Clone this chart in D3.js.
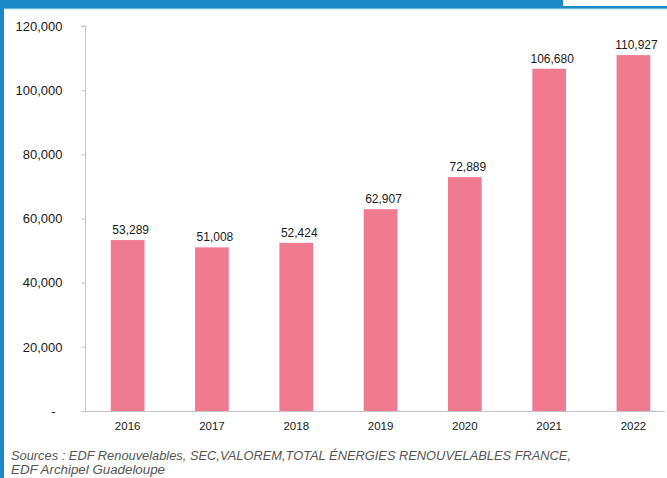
<!DOCTYPE html>
<html>
<head>
<meta charset="utf-8">
<script src="https://cdn.jsdelivr.net/npm/d3@7"></script>
<style>
  html, body { margin: 0; padding: 0; background: #fff; }
  svg { display: block; font-family: "Liberation Sans", Arial, Helvetica, sans-serif; }
</style>
</head>
<body>
<svg id="chart" width="667" height="478"></svg>
<script>
// Annual production values by year
const years = ["2016", "2017", "2018", "2019", "2020", "2021", "2022"];
const production = [53289, 51008, 52424, 62907, 72889, 106680, 110927];
const yTicks = [0, 20000, 40000, 60000, 80000, 100000, 120000];
const sourceLines = [
  "Sources : EDF Renouvelables, SEC,VALOREM,TOTAL ÉNERGIES RENOUVELABLES FRANCE,",
  "EDF Archipel Guadeloupe"
];

const W = 667, H = 478;
const svg = d3.select("#chart");
const blue = "#1a89c5";
const barColor = "#f07b91";
const axisColor = "#c4c4c4";
const fmt = d3.format(",");

// Frame: left border, top rule and header banner
svg.append("rect").attr("x", 0).attr("y", 0).attr("width", 4).attr("height", H).attr("fill", blue);
svg.append("rect").attr("x", 0).attr("y", 6).attr("width", W).attr("height", 3).attr("fill", blue);
svg.append("rect").attr("x", 0).attr("y", 0).attr("width", 563).attr("height", 8.5).attr("fill", blue);
svg.append("rect").attr("x", 4).attr("y", 8.5).attr("width", W).attr("height", 1).attr("fill", "#bfe0f2");

// Scales
const x = d3.scaleBand().domain(years).range([85.5, 85.5 + 7 * 84.3]).paddingInner(0.6).paddingOuter(0.3);
const y = d3.scaleLinear().domain([0, 120000]).range([411, 26]);

// Bars
svg.append("g").selectAll("rect")
  .data(years)
  .join("rect")
  .attr("x", (d) => x(d))
  .attr("y", (d, i) => y(production[i]))
  .attr("width", x.bandwidth())
  .attr("height", (d, i) => y(0) - y(production[i]))
  .attr("fill", barColor);

// Y axis
const yAxis = svg.append("g")
  .attr("transform", "translate(85.5,0)")
  .call(d3.axisLeft(y).tickValues(yTicks).tickSize(4).tickPadding(19)
    .tickFormat((d) => d === 0 ? "-" : fmt(d)));
yAxis.select(".domain").attr("stroke", axisColor).attr("d", `M-4,${y(120000)}H0V${y(0)}`);
yAxis.selectAll(".tick line").attr("stroke", axisColor);
yAxis.selectAll(".tick text")
  .attr("fill", "#1a1a1a")
  .style("font-size", "13px")
  .attr("dx", (d) => d === 0 ? -7 : 0);

// X axis baseline with year labels
const xAxis = svg.append("g")
  .attr("transform", `translate(0,${y(0)})`)
  .call(d3.axisBottom(x).tickSize(0).tickPadding(11));
xAxis.select(".domain").attr("stroke", axisColor).attr("d", "M82,0.5H665");
xAxis.selectAll(".tick text").attr("fill", "#1a1a1a").style("font-size", "11.5px");

// Value labels above bars
svg.append("g").selectAll("text")
  .data(years)
  .join("text")
  .attr("x", (d) => x(d) + x.bandwidth() / 2 + 3)
  .attr("y", (d, i) => y(production[i]) - 6)
  .attr("text-anchor", "middle")
  .attr("fill", "#1a1a1a")
  .style("font-size", "12px")
  .text((d, i) => fmt(production[i]));

// Source note
const widths = [560, 154];
svg.append("g").selectAll("text")
  .data(sourceLines)
  .join("text")
  .attr("x", 11)
  .attr("y", (d, i) => 460 + i * 14.3)
  .attr("fill", "#555")
  .style("font-size", "12px")
  .style("font-style", "italic")
  .attr("textLength", (d, i) => widths[i])
  .attr("lengthAdjust", "spacingAndGlyphs")
  .text((d) => d);
</script>
</body>
</html>
